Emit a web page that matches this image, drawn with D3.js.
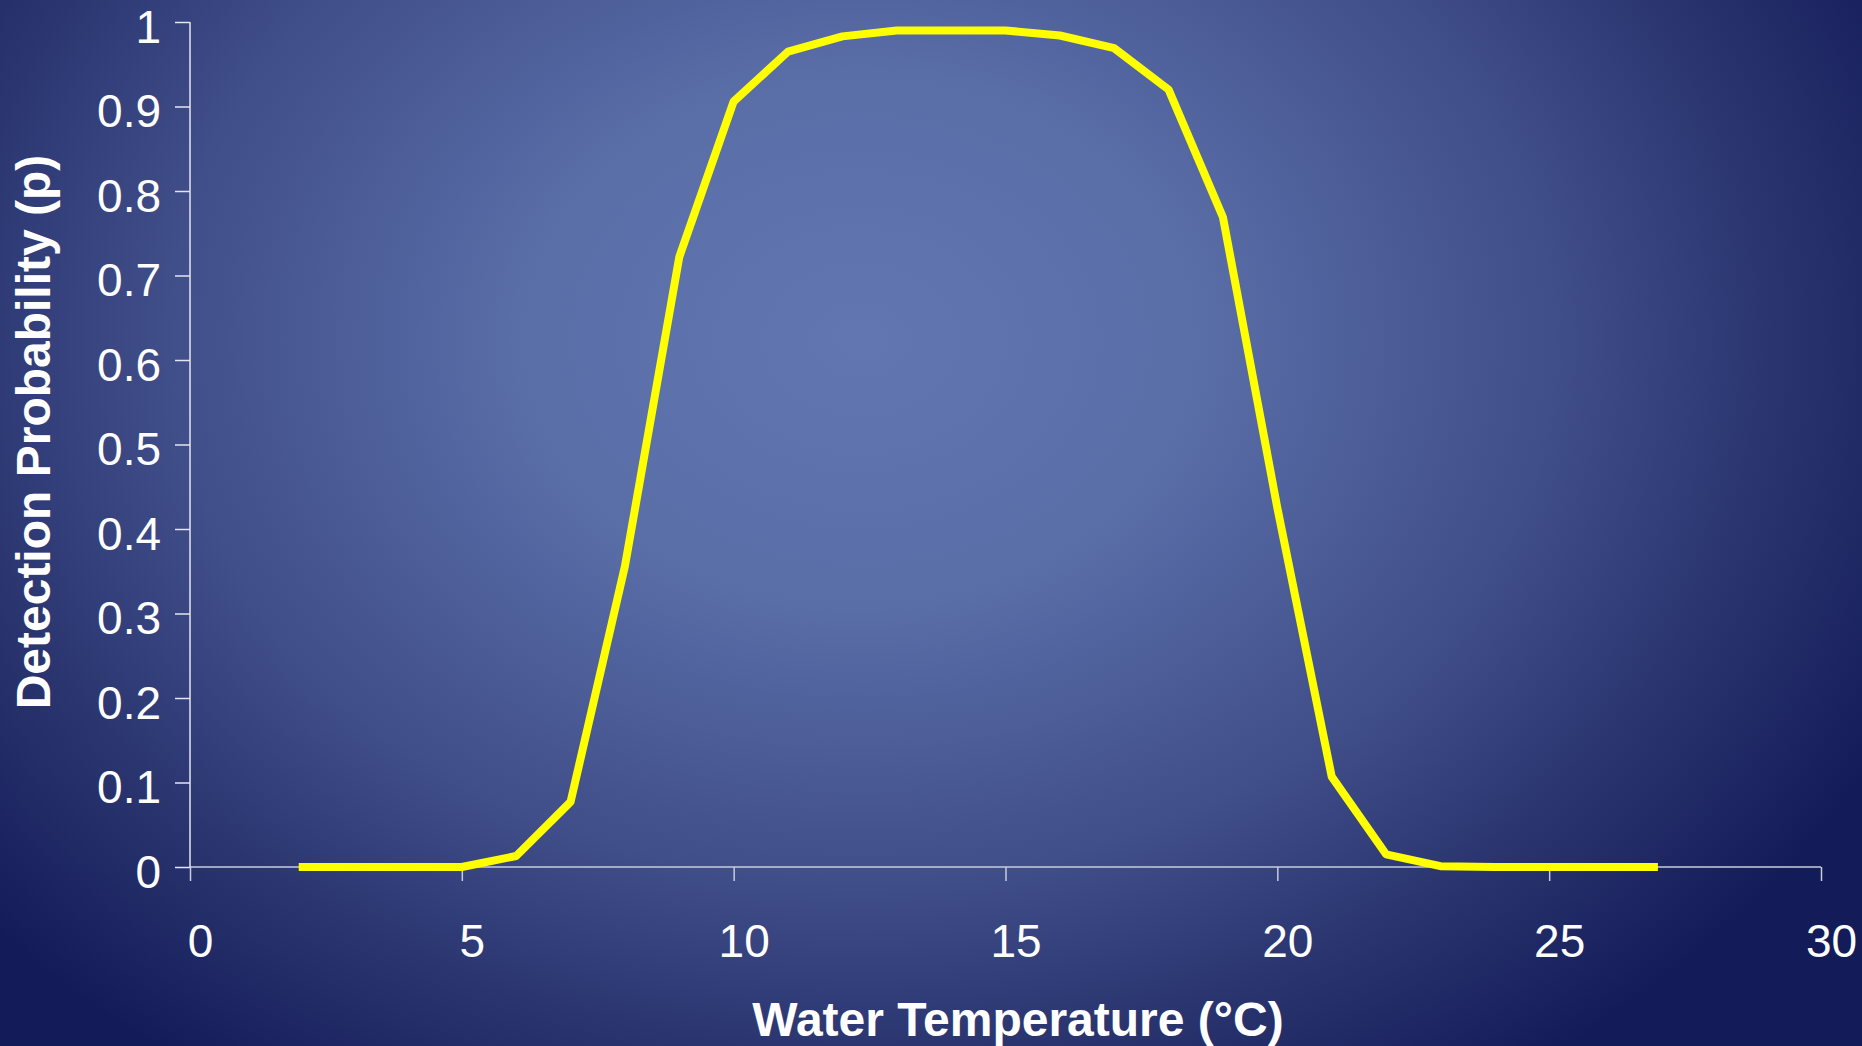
<!DOCTYPE html>
<html>
<head>
<style type="text/css">
  body{
    margin: 0;
    background: #1a2360;
    overflow: hidden;
  }
  svg text{
    font-family: 'Liberation Sans', Arial, sans-serif;
    fill: white;
  }
</style>
</head>
<body>

<script src="https://cdnjs.cloudflare.com/ajax/libs/d3/7.8.5/d3.min.js" type="text/javascript"></script>

<svg id="chart"></svg>

<script>

// water temperature (°C) and detection probability
var temps = [2, 3, 4, 5, 6, 7, 8, 9, 10, 11, 12, 13, 14, 15, 16, 17, 18, 19, 20, 21, 22, 23, 24, 25, 26, 27];
var probs = [0, 0, 0, 0, 0.013, 0.077, 0.356, 0.722, 0.906, 0.965, 0.983, 0.990, 0.990, 0.990, 0.984, 0.969, 0.920, 0.769, 0.425, 0.107, 0.015, 0.001, 0, 0, 0, 0];

var xTicks = [0, 5, 10, 15, 20, 25, 30];
var yTicks = [0, 0.1, 0.2, 0.3, 0.4, 0.5, 0.6, 0.7, 0.8, 0.9, 1];

var xTitle = 'Water Temperature (°C)';
var yTitle = 'Detection Probability (p)';

var width = 1862;
var height = 1046;

var svg = d3.select('#chart')
  .attr('width', width)
  .attr('height', height);

// background
var defs = svg.append('defs');
var grad = defs.append('radialGradient')
  .attr('id', 'bg')
  .attr('gradientUnits', 'userSpaceOnUse')
  .attr('cx', 860).attr('cy', 340).attr('r', 1150)
  .attr('fx', 860).attr('fy', 340)
  .attr('gradientTransform', 'translate(0,340) scale(1,0.78) translate(0,-340)');

grad.append('stop').attr('offset', 0).attr('stop-color', '#6277b1');
grad.append('stop').attr('offset', 0.3).attr('stop-color', '#596da7');
grad.append('stop').attr('offset', 0.6).attr('stop-color', '#404e89');
grad.append('stop').attr('offset', 0.85).attr('stop-color', '#242e69');
grad.append('stop').attr('offset', 1).attr('stop-color', '#131c59');

svg.append('rect')
  .attr('width', width)
  .attr('height', height)
  .attr('fill', 'url(#bg)');

var x = d3.scaleLinear().domain([0, 30]).range([190, 1821]);
var y = d3.scaleLinear().domain([0, 1]).range([867, 22]);

// x axis
var xAxis = svg.append('g')
  .attr('transform', 'translate(0,' + y(0) + ')')
  .call(d3.axisBottom(x).tickValues(xTicks).tickSize(14).tickSizeOuter(0));

xAxis.select('.domain').remove();
xAxis.selectAll('line').attr('stroke', '#c8ccdc').attr('stroke-width', 1.5);
xAxis.selectAll('text')
  .attr('x', 10)
  .attr('y', 90)
  .attr('dy', null)
  .style('font-size', '46px');

xAxis.append('line')
  .attr('x1', x(0)).attr('x2', x(30))
  .attr('stroke', '#c8ccdc').attr('stroke-width', 1.5);

// y axis
var yAxis = svg.append('g')
  .attr('transform', 'translate(' + x(0) + ',0)')
  .call(d3.axisLeft(y).tickValues(yTicks).tickSize(15).tickSizeOuter(0)
    .tickFormat(function(d) { return String(+d.toFixed(1)); }));

yAxis.select('.domain').remove();
yAxis.selectAll('line').attr('stroke', '#e4e6ef').attr('stroke-width', 1.5);
yAxis.selectAll('text')
  .attr('x', -29)
  .attr('y', 20)
  .attr('dy', null)
  .style('font-size', '46px');

yAxis.append('line')
  .attr('y1', y(0)).attr('y2', y(1))
  .attr('stroke', '#e4e6ef').attr('stroke-width', 1.5);

// titles
svg.append('text')
  .attr('x', 1018)
  .attr('y', 1036)
  .attr('text-anchor', 'middle')
  .style('font-size', '48px')
  .style('font-weight', 'bold')
  .text(xTitle);

svg.append('text')
  .attr('transform', 'translate(50,432) rotate(-90)')
  .attr('text-anchor', 'middle')
  .style('font-size', '48px')
  .style('font-weight', 'bold')
  .text(yTitle);

// curve
var line = d3.line()
  .x(function(d, i) { return x(temps[i]); })
  .y(function(d) { return y(d); });

svg.append('path')
  .datum(probs)
  .attr('d', line)
  .attr('fill', 'none')
  .attr('stroke', '#ffff00')
  .attr('stroke-width', 8)
  .attr('stroke-linejoin', 'round')
  .attr('stroke-linecap', 'butt');

</script>

</body>
</html>
